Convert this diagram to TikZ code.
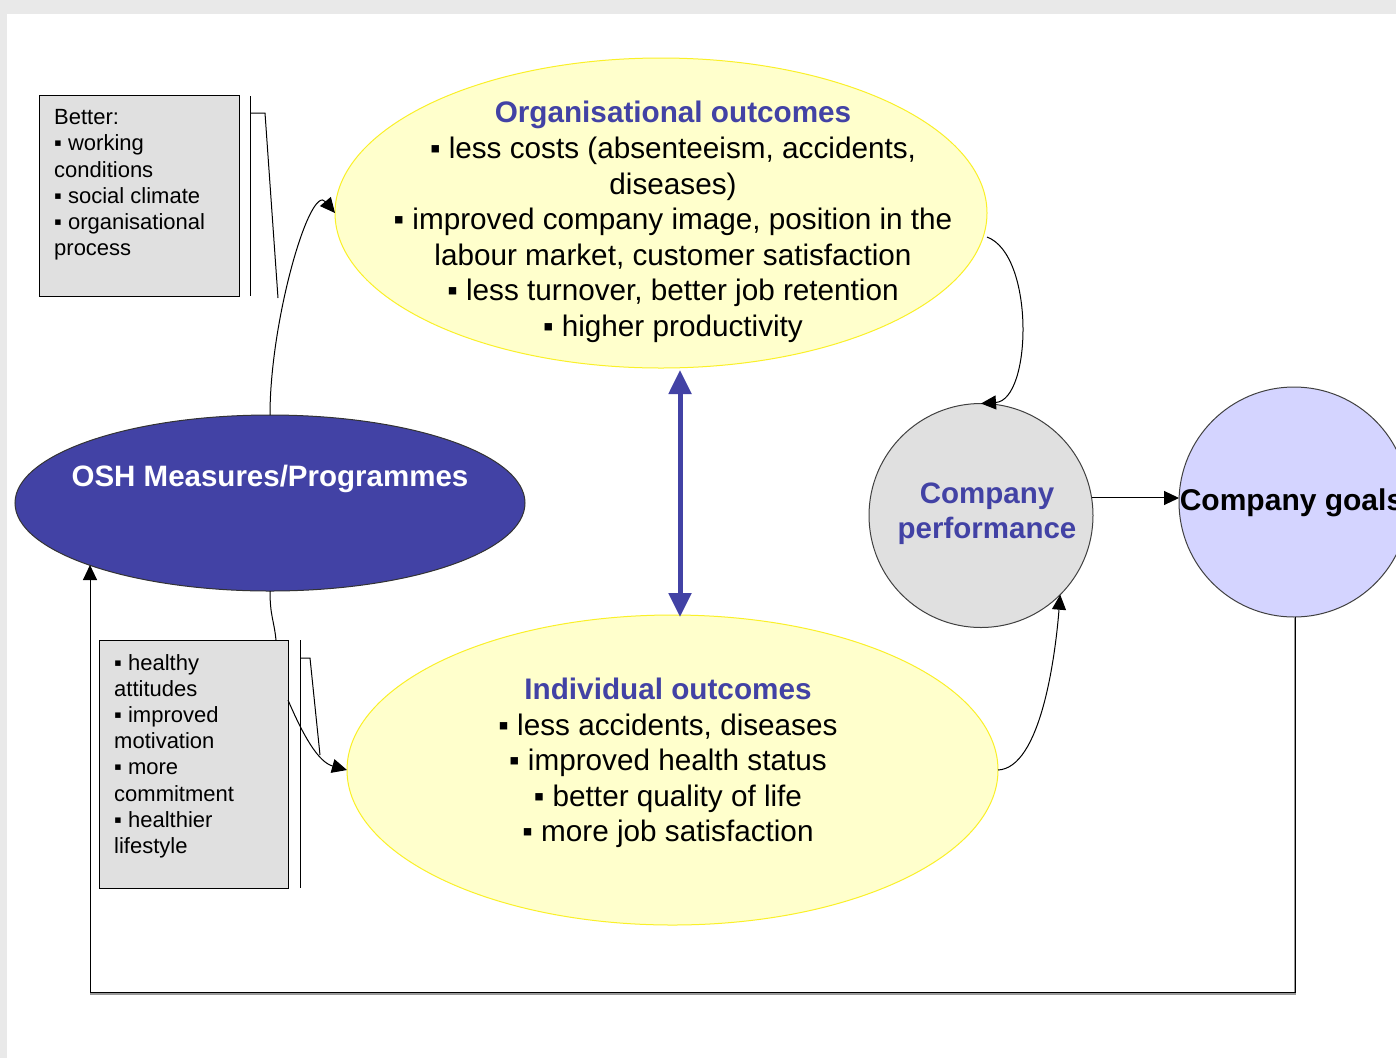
\documentclass[tikz,border=0pt]{standalone}
\usepackage{fontspec}
\setmainfont{Liberation Sans}
\usetikzlibrary{shapes.geometric,arrows.meta}
\definecolor{oshblue}{RGB}{66,66,165}
\definecolor{outyellow}{RGB}{255,255,204}
\definecolor{outrim}{RGB}{250,240,40}
\definecolor{boxgray}{RGB}{224,224,224}
\definecolor{goalblue}{RGB}{212,212,255}
\definecolor{pagegray}{RGB}{233,233,233}
\tikzset{
  outcome/.style={ellipse,draw=outrim,fill=outyellow,line width=1pt,inner sep=0pt,outer sep=0pt},
  notebox/.style={rectangle,draw=black,fill=boxgray,line width=1pt,inner sep=0pt,outer sep=0pt},
  notetext/.style={align=left,anchor=west,inner sep=0pt,font=\fontsize{22}{26.2}\selectfont},
  bigtext/.style={align=center,inner sep=0pt,font=\fontsize{29.7}{35.6}\selectfont},
  round/.style={circle,draw=black!75,line width=1pt,inner sep=0pt,outer sep=0pt},
  arr/.style={line width=1pt,-{Triangle[length=15pt,width=14pt]}},
  thin/.style={line width=1pt},
}
\newcommand{\bul}{\char"25AA\ }
\begin{document}
\begin{tikzpicture}[x=1pt,y=-1pt]
\useasboundingbox (0,0) rectangle (1396,1058);
% page frame
\fill[pagegray] (0,0) rectangle (1396,1058);
\fill[white] (7,14) rectangle (1396,1058);

% main shapes
\node[outcome,minimum width=652pt,minimum height=310pt] (org) at (661,213) {};
\node[outcome,minimum width=651pt,minimum height=310pt] (ind) at (672.5,770) {};
\node[ellipse,draw=black!80,fill=oshblue,line width=1pt,inner sep=0pt,outer sep=0pt,
      minimum width=510pt,minimum height=176pt] (osh) at (270,503) {};
\node[notebox,minimum width=200pt,minimum height=201pt] (box1) at (139,195.5) {};
\node[notebox,minimum width=189pt,minimum height=248pt] (box2) at (193.5,764) {};
\node[round,fill=boxgray,minimum size=224pt] (cp) at (981,515.5) {};
\node[round,fill=goalblue,minimum size=230pt] (cg) at (1294,502) {};

% texts
\node[bigtext] (orgtext) at (673,222) {%
  \textcolor{oshblue}{\bfseries Organisational outcomes}\\
  \bul less costs (absenteeism, accidents,\\
  diseases)\\
  \bul improved company image, position in the\\
  labour market, customer satisfaction\\
  \bul less turnover, better job retention\\
  \bul higher productivity};
\node[bigtext] (indtext) at (668,763) {%
  \textcolor{oshblue}{\bfseries Individual outcomes}\\
  \bul less accidents, diseases\\
  \bul improved health status\\
  \bul better quality of life\\
  \bul more job satisfaction};
\node[bigtext,text=white,font=\bfseries\fontsize{29.5}{35}\selectfont] (oshtext) at (270,479) {OSH Measures/Programmes};
\node[bigtext,text=oshblue,font=\bfseries\fontsize{29.5}{35}\selectfont] (cptext) at (987,514) {Company\\performance};
\node[bigtext,font=\bfseries\fontsize{30}{35}\selectfont] (cgtext) at (1291.5,503) {Company goals};
\node[notetext] (box1text) at (54,185) {Better:\\\bul working\\conditions\\\bul social climate\\\bul organisational\\process};
\node[notetext] (box2text) at (114,756) {\bul healthy\\attitudes\\\bul improved\\motivation\\\bul more\\commitment\\\bul healthier\\lifestyle};

% callout brackets
\coordinate (b1a) at (250,96);
\coordinate (b1b) at (250,296);
\coordinate (b1c) at (250,113);
\coordinate (b1d) at (265,113);
\coordinate (b1e) at (278,298);
\draw[thin] (b1a) -- (b1b);
\draw[thin] (b1c) -- (b1d) -- (b1e);
\coordinate (b2a) at (300,640);
\coordinate (b2b) at (300,888);
\coordinate (b2c) at (300,658);
\coordinate (b2d) at (310,658);
\coordinate (b2e) at (320,755);
\draw[thin] (b2a) -- (b2b);
\draw[thin] (b2c) -- (b2d) -- (b2e);

% connectors
\draw[arr] (osh.north) .. controls +(0,-95) and +(-25,-30) .. (org.west);
\coordinate (b2top) at (276,640);
\draw[thin] (osh.south) .. controls +(0,25) and +(-2,-20) .. (b2top);
\coordinate (b2side) at (288,700);
\draw[arr] (b2side) .. controls (303,735) and (318,762) .. (ind.west);
\coordinate (orgout) at (987,237);
\draw[arr] (orgout) .. controls (1035,255) and (1032,400) .. (cp.north);
\draw[arr] (ind.east) .. controls (1040,768) and (1055,660) .. (cp.-45);
\draw[arr] (cp.9) -- (cp.9 -| cg.west);
\coordinate (oshin) at (90,565);
\draw[line width=2.5pt,black!40] (cg.south) ++(1,0) |- (90,993.5);
\draw[arr] (cg.south) ++(1,0) |- (90,992) -- (oshin);

% link between the two outcome ellipses
\draw[oshblue,line width=5pt,{Triangle[length=24pt,width=22pt]}-{Triangle[length=24pt,width=22pt]}]
  (org.south -| 680,0) ++(0,2) -- ([yshift=-2pt]ind.north -| 680,0);
\end{tikzpicture}
\end{document}
